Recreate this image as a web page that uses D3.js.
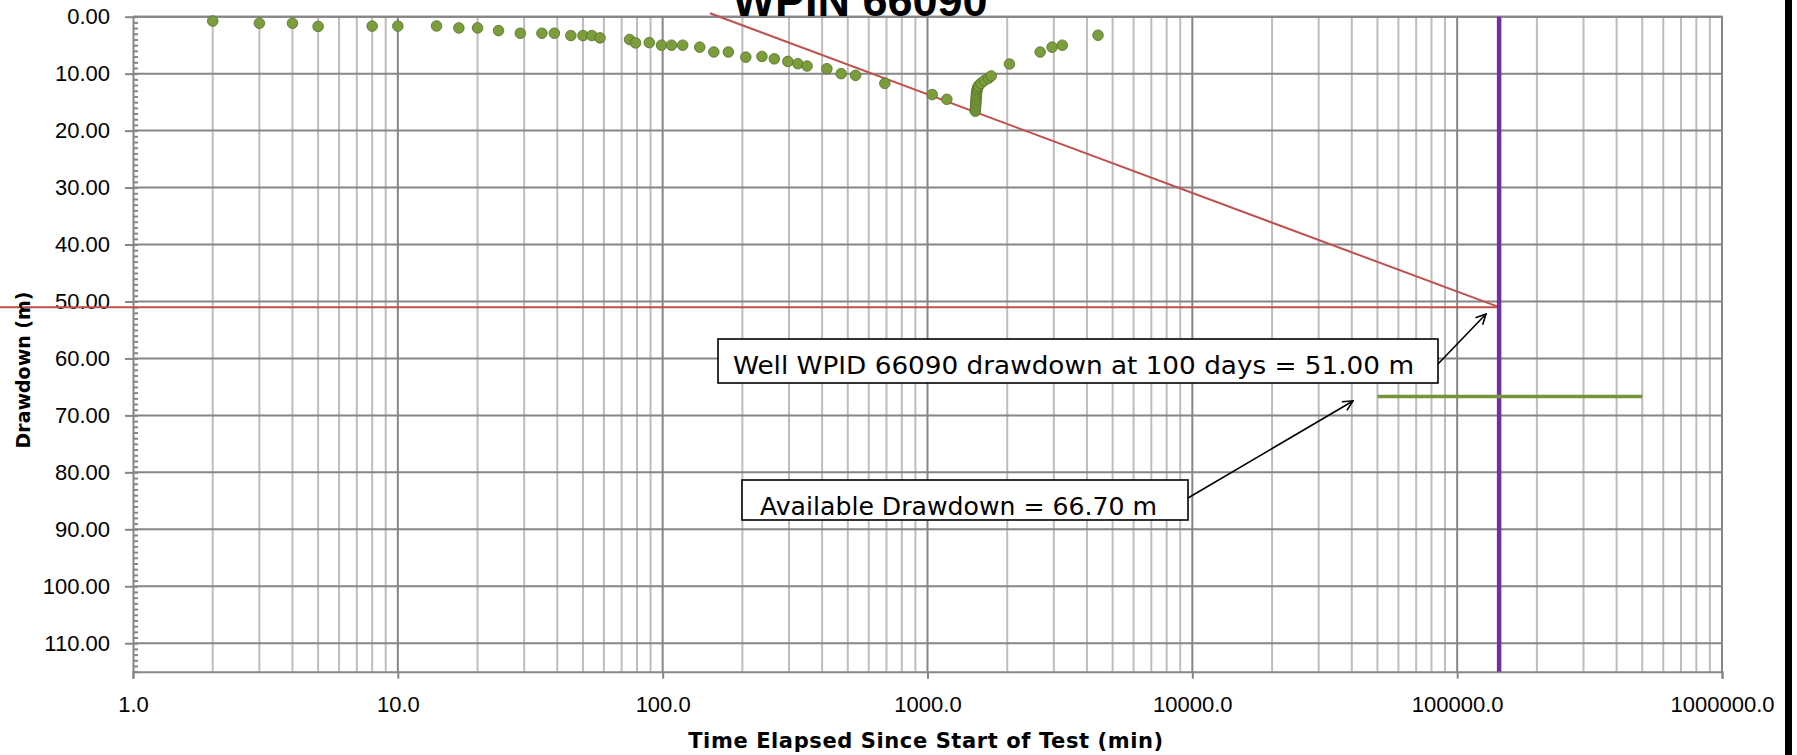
<!DOCTYPE html>
<html lang="en">
<head>
<meta charset="utf-8">
<script src="https://d3js.org/d3.v7.min.js"></script>
<style>
  body { margin: 0; background: #fff; }
  svg { display: block; }
  .tick text { font-family: "Liberation Sans", Arial, sans-serif; font-size: 22px; fill: #000; }
  .axis path, .axis line { stroke: #868686; stroke-width: 2; }
</style>
</head>
<body>
<div id="chart"></div>
<script type="text/javascript">
// pumping test data (time in min, drawdown in m)
var timeMin = [2, 3, 4, 5, 8, 10, 14, 17, 20, 24, 29, 35, 39, 45, 50, 54, 58, 75, 79, 89,
  99, 108, 119, 138, 156, 177, 206, 237, 264, 297, 324, 351, 417, 472, 535, 690, 1042, 1183,
  1515, 1517, 1519, 1521, 1523, 1525, 1527, 1529, 1532, 1536, 1541, 1548, 1560, 1590, 1640, 1700, 1740,
  2039, 2663, 2954, 3229, 4404];
var drawdown = [0.75, 1.15, 1.15, 1.7, 1.65, 1.65, 1.62, 1.97, 1.97, 2.44, 2.9, 2.9, 2.9, 3.31, 3.31, 3.31, 3.72, 4.0, 4.6, 4.55,
  5.0, 5.0, 5.0, 5.35, 6.2, 6.2, 7.1, 6.98, 7.4, 7.85, 8.25, 8.66, 9.13, 10.0, 10.3, 11.7, 13.67, 14.5,
  16.6, 16.2, 15.8, 15.4, 15.0, 14.6, 14.2, 13.8, 13.4, 13.0, 12.7, 12.4, 12.1, 11.7, 11.2, 10.8, 10.4,
  8.3, 6.2, 5.35, 5.0, 3.25];

var fitLine = [[151, -0.6], [144000, 51]];      // straight-line fit, extended to 100 days
var day100 = 144000;                             // 100 days in minutes
var drawdown100 = 51.0;
var availDrawdown = 66.7;
var availRange = [50000, 500000];

var xTicks = [1, 10, 100, 1000, 10000, 100000, 1000000];
var yTicks = d3.range(0, 111, 10);

var W = 1797, H = 755;
var svg = d3.select("#chart").append("svg").attr("width", W).attr("height", H);

var x = d3.scaleLog().domain([1, 1e6]).range([133, 1722]);
var y = d3.scaleLinear().domain([0, 115]).range([16.7, 671.7]);

// gridlines
var minor = [];
xTicks.slice(0, -1).forEach(function (d) {
  for (var k = 2; k <= 9; k++) minor.push(d * k);
});
svg.append("g").selectAll("line").data(minor).enter().append("line")
  .attr("x1", d => x(d)).attr("x2", d => x(d))
  .attr("y1", y(0)).attr("y2", y(115))
  .attr("stroke", "#bdbdbd").attr("stroke-width", 2);
svg.append("g").selectAll("line").data(xTicks.slice(1)).enter().append("line")
  .attr("x1", d => x(d)).attr("x2", d => x(d))
  .attr("y1", y(0)).attr("y2", y(115))
  .attr("stroke", "#868686").attr("stroke-width", 2);
svg.append("g").selectAll("line").data(yTicks).enter().append("line")
  .attr("x1", x(1)).attr("x2", x(1e6))
  .attr("y1", d => y(d)).attr("y2", d => y(d))
  .attr("stroke", "#868686").attr("stroke-width", 2);

// axes
svg.append("g").attr("class", "axis")
  .attr("transform", "translate(0," + y(115) + ")")
  .call(d3.axisBottom(x).tickValues(xTicks).tickFormat(d3.format(".1f")).tickSize(7).tickPadding(18));
svg.append("g").attr("class", "axis")
  .attr("transform", "translate(" + x(1) + ",0)")
  .call(d3.axisLeft(y).tickValues(yTicks).tickFormat(d3.format(".2f")).tickSize(8).tickSizeOuter(0).tickPadding(15));
svg.append("g").attr("class", "axis minor")
  .attr("transform", "translate(" + x(1) + ",0)")
  .call(d3.axisRight(y).tickValues(d3.range(0, 116, 1)).tickFormat("").tickSize(5).tickSizeOuter(0));
svg.selectAll(".minor path").remove();

// top / right frame of the plot
svg.append("path")
  .attr("d", "M" + x(1) + "," + y(0) + "H" + x(1e6) + "V" + y(115))
  .attr("fill", "none").attr("stroke", "#868686").attr("stroke-width", 2);

// straight-line fit and 100 day drawdown
svg.append("line")
  .attr("x1", 0).attr("x2", x(day100))
  .attr("y1", y(drawdown100)).attr("y2", y(drawdown100))
  .attr("stroke", "#c0504d").attr("stroke-width", 2);
svg.append("line")
  .attr("x1", x(fitLine[0][0])).attr("y1", y(fitLine[0][1]))
  .attr("x2", x(fitLine[1][0])).attr("y2", y(fitLine[1][1]))
  .attr("stroke", "#c0504d").attr("stroke-width", 2);

// 100 days marker
svg.append("line")
  .attr("x1", x(day100)).attr("x2", x(day100))
  .attr("y1", y(0)).attr("y2", y(115))
  .attr("stroke", "#7030a0").attr("stroke-width", 4.5);

// available drawdown
svg.append("line")
  .attr("x1", x(availRange[0])).attr("x2", x(availRange[1]))
  .attr("y1", y(availDrawdown)).attr("y2", y(availDrawdown))
  .attr("stroke", "#77933c").attr("stroke-width", 3.5);

// observations
svg.append("g").selectAll("circle").data(timeMin).enter().append("circle")
  .attr("cx", d => x(d))
  .attr("cy", (d, i) => y(drawdown[i]))
  .attr("r", 5.3)
  .attr("fill", "#7b9d3b")
  .attr("stroke", "#566f2a").attr("stroke-width", 0.8);

// title
svg.append("text")
  .attr("x", 860).attr("y", 16)
  .attr("text-anchor", "middle")
  .style("font-family", "'Liberation Sans', Arial, sans-serif")
  .style("font-weight", "bold").style("font-size", "45px")
  .text("WPIN 66090");

// axis titles
svg.append("text")
  .attr("x", 926).attr("y", 748)
  .attr("text-anchor", "middle")
  .style("font-family", "'DejaVu Sans', Verdana, sans-serif")
  .style("font-weight", "bold").style("font-size", "21px")
  .style("letter-spacing", "0.6px")
  .text("Time Elapsed Since Start of Test (min)");
svg.append("text")
  .attr("transform", "translate(30,370) rotate(-90)")
  .attr("text-anchor", "middle")
  .style("font-family", "'DejaVu Sans', Verdana, sans-serif")
  .style("font-weight", "bold").style("font-size", "19px")
  .text("Drawdown (m)");

// annotation boxes with arrows
var defs = svg.append("defs");
defs.append("marker").attr("id", "arr")
  .attr("viewBox", "0 0 12 12").attr("refX", 11).attr("refY", 6)
  .attr("markerWidth", 12).attr("markerHeight", 12).attr("markerUnits", "userSpaceOnUse")
  .attr("orient", "auto")
  .append("path").attr("d", "M1,1L11,6L1,11")
  .attr("fill", "none").attr("stroke", "#000").attr("stroke-width", 1.6);

function note(bx, by, bw, bh, tx, ty, tw, label, ax1, ay1, ax2, ay2) {
  svg.append("line")
    .attr("x1", ax1).attr("y1", ay1).attr("x2", ax2).attr("y2", ay2)
    .attr("stroke", "#000").attr("stroke-width", 1.6)
    .attr("marker-end", "url(#arr)");
  svg.append("rect")
    .attr("x", bx).attr("y", by).attr("width", bw).attr("height", bh)
    .attr("fill", "#fff").attr("stroke", "#000").attr("stroke-width", 1.6);
  svg.append("text")
    .attr("x", tx).attr("y", ty)
    .attr("textLength", tw).attr("lengthAdjust", "spacingAndGlyphs")
    .style("font-family", "'DejaVu Sans', Verdana, sans-serif")
    .style("font-size", "25px")
    .text(label);
}
note(718, 339, 720, 44, 733, 374, 681,
  "Well WPID 66090 drawdown at 100 days =  " + drawdown100.toFixed(2) + " m",
  1438, 364, 1486, 314);
note(742, 480, 446, 40, 760, 515, 397,
  "Available Drawdown = " + availDrawdown.toFixed(2) + " m",
  1188, 498, 1353, 401);

// frame edge on the right
svg.append("rect").attr("x", 1785).attr("y", 0).attr("width", 7).attr("height", H).attr("fill", "#000");
</script>
</body>
</html>
